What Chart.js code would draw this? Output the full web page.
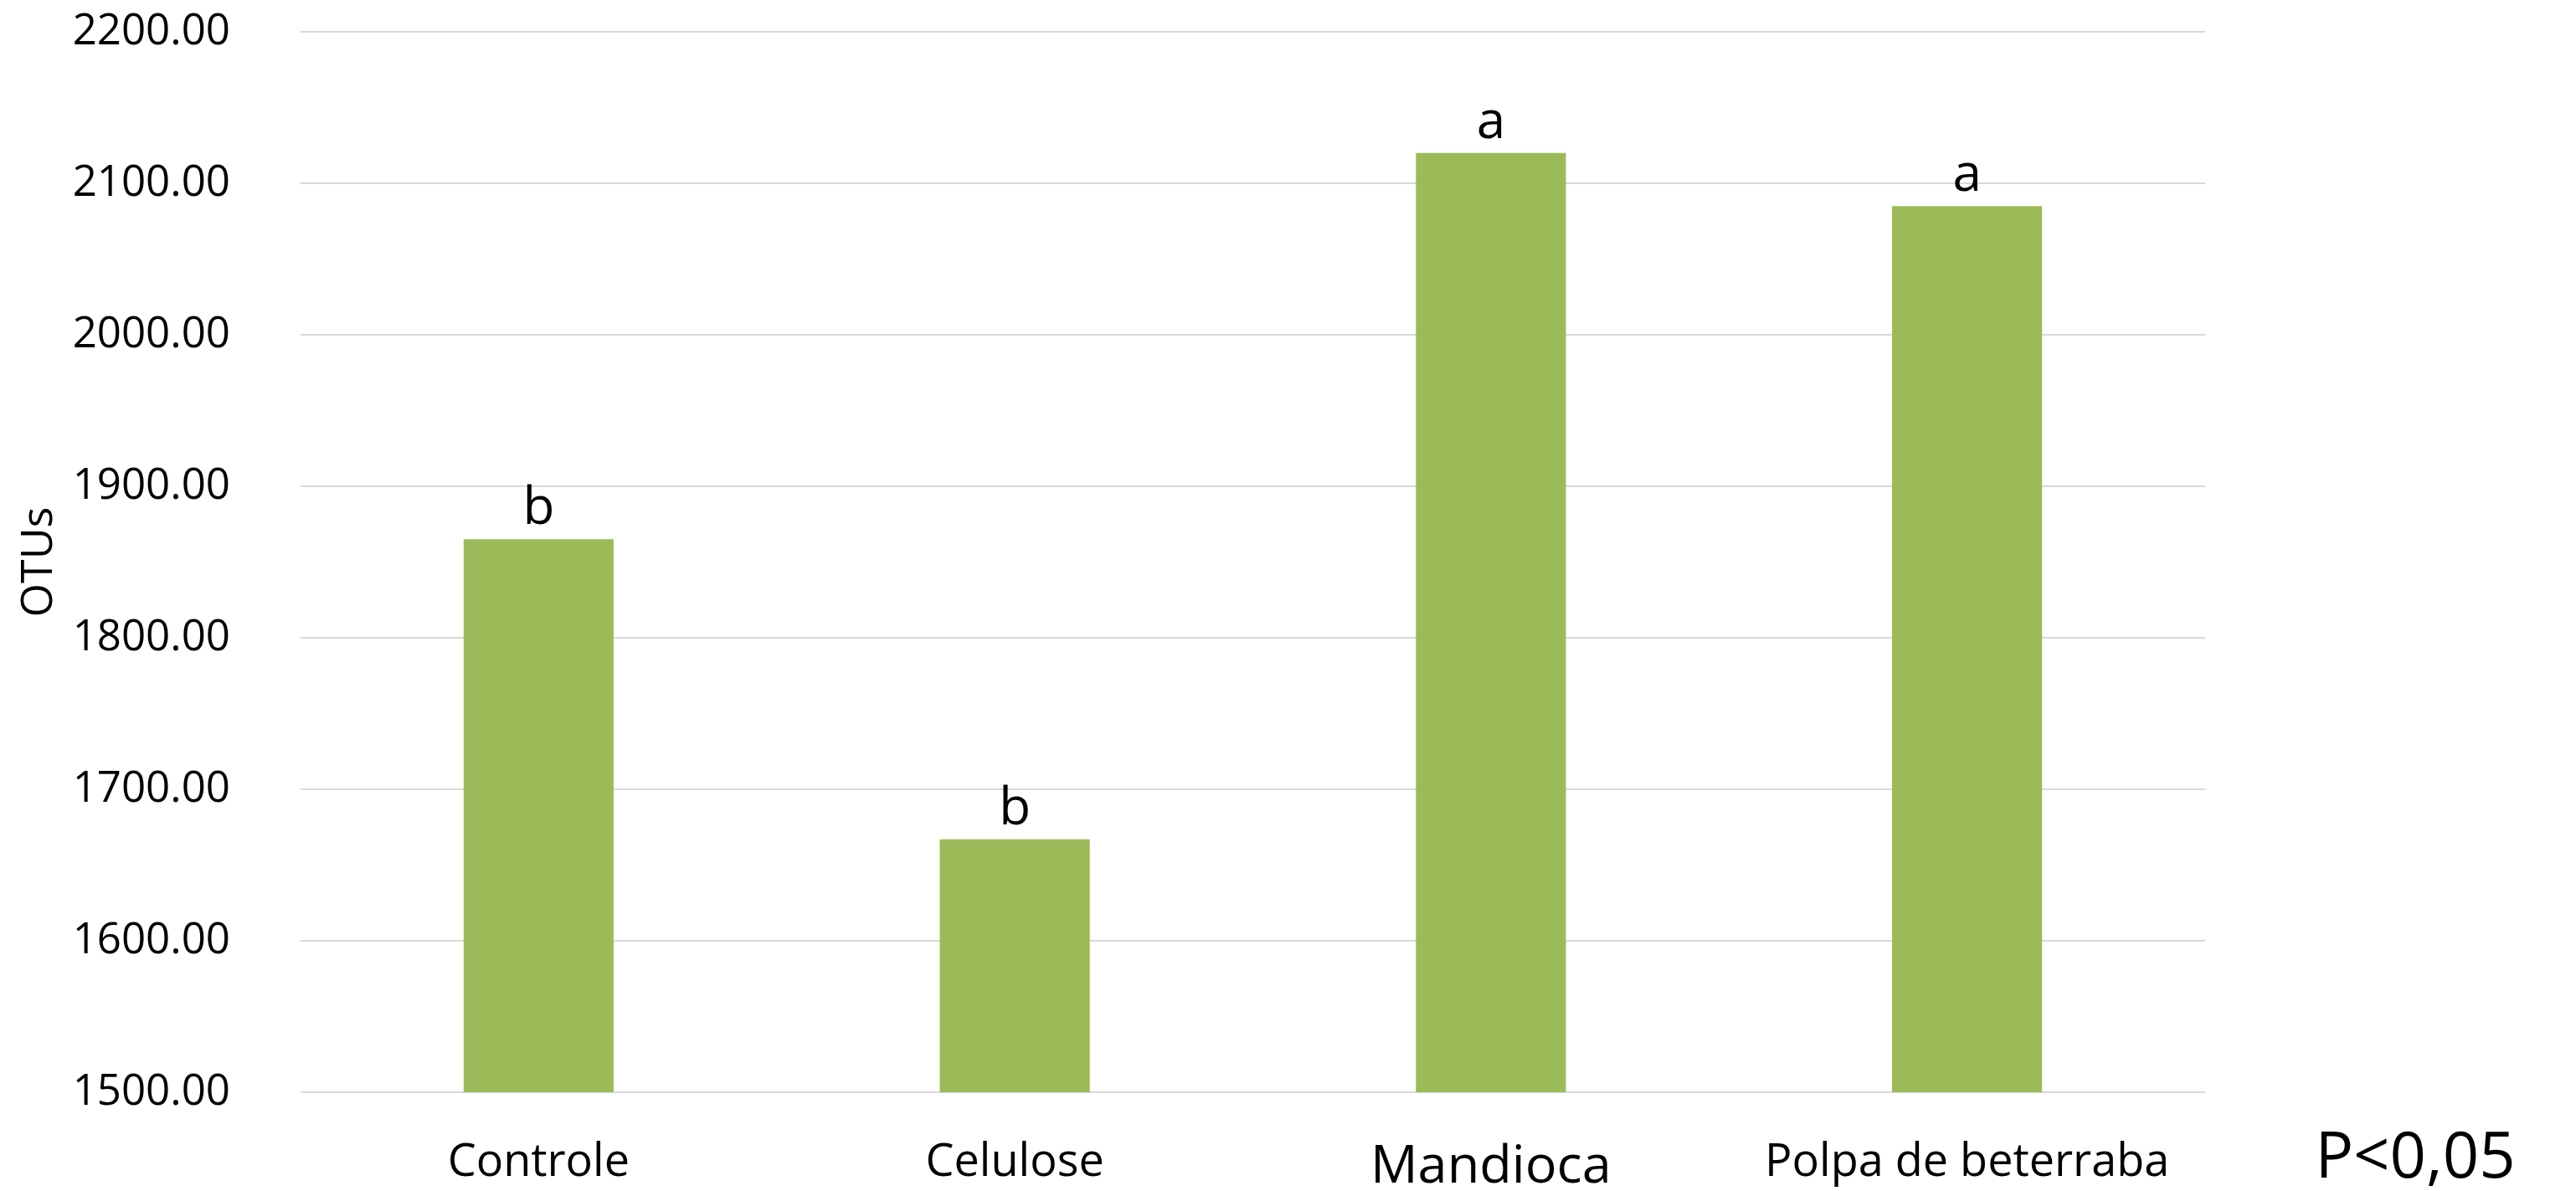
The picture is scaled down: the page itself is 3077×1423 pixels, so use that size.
<!DOCTYPE html>
<html>
<head>
<meta charset="utf-8">
<script src="https://cdn.jsdelivr.net/npm/chart.js@4/dist/chart.umd.min.js"></script>
<style>
  html, body { margin: 0; padding: 0; background: #ffffff; }
  #wrap { width: 3077px; height: 1423px; position: relative; }
</style>
</head>
<body>
<div id="wrap"><canvas id="otuChart"></canvas></div>
<script>
// data
const categories = ["Controle", "Celulose", "Mandioca", "Polpa de beterraba"];
const otuValues = [1865, 1667, 2120, 2085];
const groupLetters = ["b", "b", "a", "a"];
const yTicks = [1500, 1600, 1700, 1800, 1900, 2000, 2100, 2200];
const pNote = "P<0,05";

const FONT = "'Open Sans', 'Noto Sans', sans-serif";

// letters above bars + the P note at the right
const letterPlugin = {
  id: 'letterPlugin',
  afterDatasetsDraw(chart) {
    const { ctx, chartArea } = chart;
    const meta = chart.getDatasetMeta(0);
    ctx.save();
    ctx.fillStyle = '#000000';
    ctx.font = `62px ${FONT}`;
    ctx.textAlign = 'center';
    ctx.textBaseline = 'alphabetic';
    meta.data.forEach((bar, i) => {
      ctx.fillText(groupLetters[i], bar.x, bar.y - 18);
    });
    ctx.font = `76px ${FONT}`;
    ctx.fillText(pNote, chartArea.right + 251, 1407);
    ctx.restore();
  }
};

new Chart(document.getElementById("otuChart"), {
  type: "bar",
  data: {
    labels: categories,
    datasets: [{
      label: "OTUs",
      data: otuValues,
      backgroundColor: "#9BBB59",
      borderWidth: 0,
      categoryPercentage: 1.0,
      barPercentage: 0.315
    }]
  },
  options: {
    responsive: true,
    maintainAspectRatio: false,
    animation: false,
    layout: { padding: { top: 38, right: 443, left: 0, bottom: 0 } },
    plugins: {
      legend: { display: false },
      tooltip: { enabled: false }
    },
    scales: {
      y: {
        min: yTicks[0],
        max: yTicks[yTicks.length - 1],
        afterFit(scale) {
          scale.width = 359;
          // tick padding would otherwise push the plot down
          scale.paddingTop = 0;
          scale.paddingBottom = 0;
        },
        afterBuildTicks(scale) { scale.ticks = yTicks.map(v => ({ value: v })); },
        border: { display: false },
        grid: { color: "#d9d9d9", lineWidth: 2, drawTicks: false },
        ticks: {
          padding: 84,
          color: "#000000",
          font: { family: FONT, size: 51 },
          callback: v => Number(v).toFixed(2)
        },
        title: {
          display: true,
          text: "OTUs",
          color: "#000000",
          font: { family: FONT, size: 52 },
          padding: { top: 16, bottom: 0 }
        }
      },
      x: {
        afterFit(scale) { scale.height = 118; },
        border: { display: false },
        grid: { display: false, drawTicks: false },
        ticks: {
          padding: 52,
          color: "#000000",
          font: ctx => ({ family: FONT, size: ctx.index === 2 ? 63 : 54 })
        }
      }
    }
  },
  plugins: [letterPlugin]
});
</script>
</body>
</html>
